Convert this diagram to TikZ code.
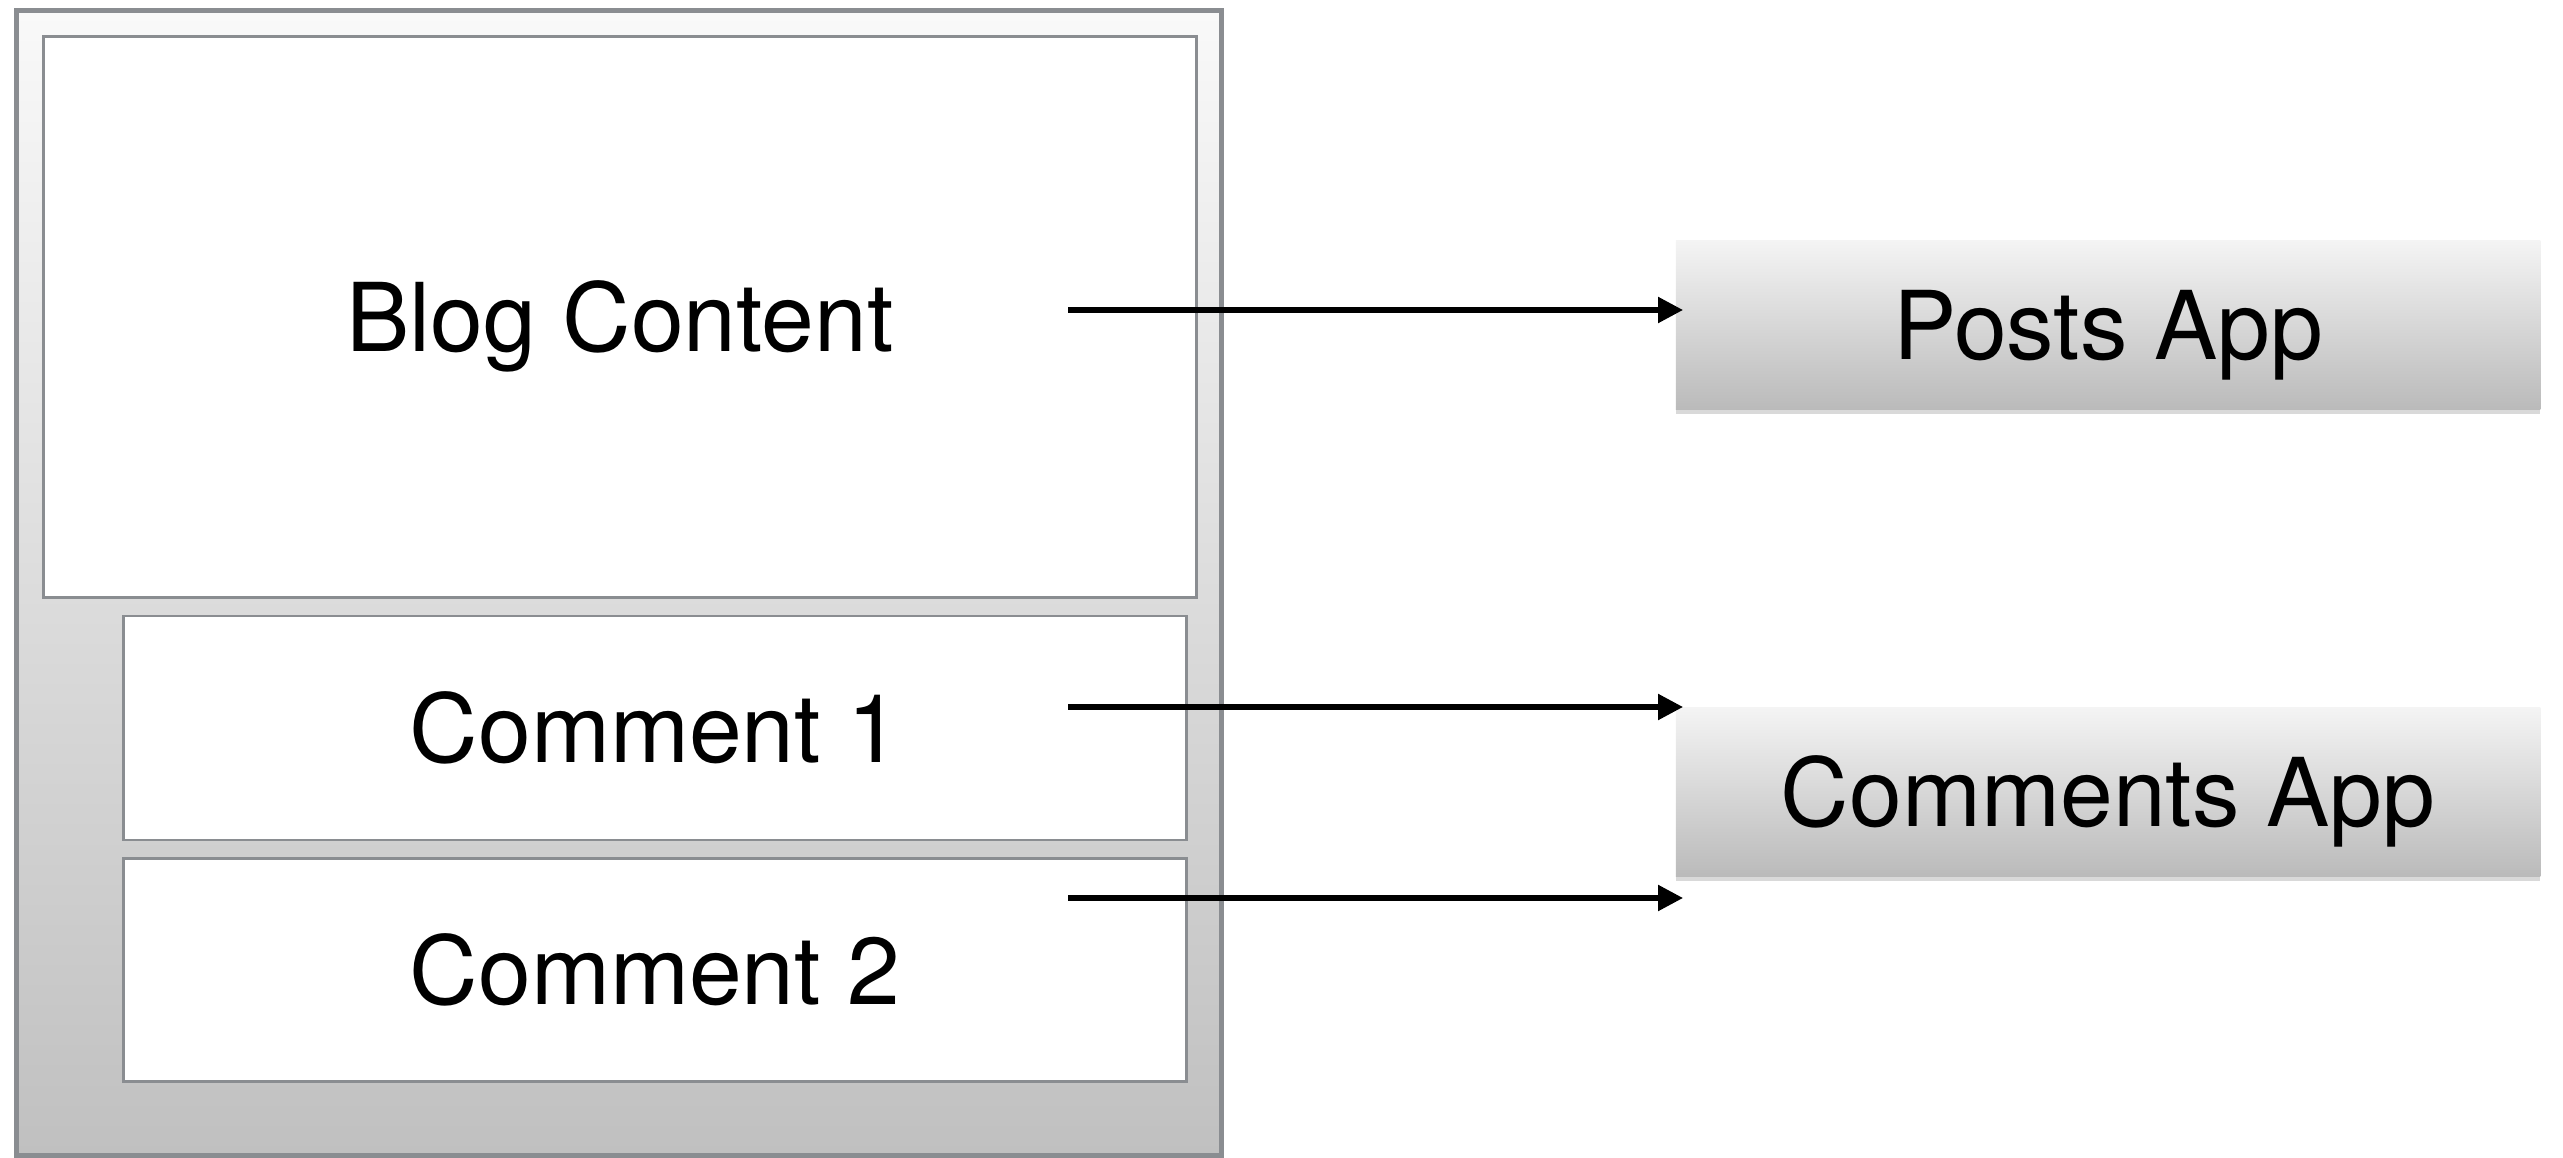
\documentclass[tikz,border=0pt]{standalone}
\usepackage{fontspec}
\setmainfont{TeX Gyre Heros}
\usetikzlibrary{arrows.meta}
\usetikzlibrary{shadows}
\definecolor{framegray}{RGB}{138,141,145}
\definecolor{lighttop}{RGB}{249,249,249}
\definecolor{darkbot}{RGB}{192,192,192}
\tikzset{
  page/.style={draw=framegray, line width=1.4pt, top color=lighttop, bottom color=darkbot,
    drop shadow={shadow xshift=-0.03cm, shadow yshift=-0.02cm, opacity=.15}},
  panel/.style={draw=framegray, line width=0.8pt, fill=white, text depth=0pt, text height=19.5pt},
  app/.style={draw=none, top color=lighttop!98!black, bottom color=darkbot!97!black,
    minimum width=8.64cm, minimum height=1.69cm, text depth=0pt, text height=19.5pt,
    drop shadow={shadow xshift=0cm, shadow yshift=-0.04cm, opacity=.3}},
  link/.style={-{Triangle[length=0.25cm,width=0.25cm]}, line width=1.5pt, shorten >=-0.08cm}
}
\begin{document}
\begin{tikzpicture}[x=0.01cm, y=-0.01cm, font=\fontsize{27}{32}\selectfont]
    \useasboundingbox (0,0) rectangle (2563,1158);

    \node[page, minimum width=12.04cm, minimum height=11.44cm] (frame) at (619,583) {};

    \node[panel, minimum width=11.52cm, minimum height=5.60cm] (blog) at (620,317) {Blog Content};
    \node[panel, minimum width=10.63cm, minimum height=2.24cm] (comment1) at (655,728) {Comment 1};
    \node[panel, minimum width=10.63cm, minimum height=2.23cm] (comment2) at (655,970) {Comment 2};

    \node[app] (posts) at (2108,325) {Posts App};
    \node[app] (comments) at (2108,792) {Comments App};

    \coordinate (blogout) at (1068,310);
    \coordinate (c1out) at (1068,707);
    \coordinate (c2out) at (1068,898);

    \draw[link] (blogout) -- (posts.west |- blogout);
    \draw[link] (c1out) -- (comments.west |- c1out);
    \draw[link] (c2out) -- (comments.west |- c2out);
\end{tikzpicture}
\end{document}
